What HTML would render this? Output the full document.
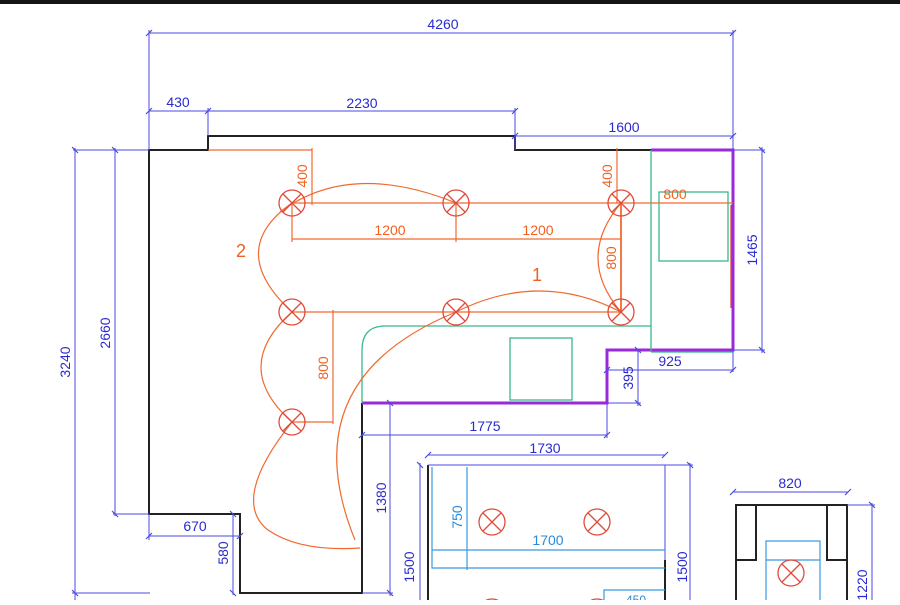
<!DOCTYPE html>
<html><head><meta charset="utf-8"><style>
body{margin:0;background:#fff;width:900px;height:600px;overflow:hidden}
text{font-family:"Liberation Sans",sans-serif;font-size:14px}
.b{fill:#2a2ad0}.o{fill:#f06020}.c{fill:#2a8ad8}
</style></head><body>
<svg width="900" height="600" viewBox="0 0 900 600" xmlns="http://www.w3.org/2000/svg">
<defs>
<g id="L"><circle r="13"/><path d="M-9,-9 L9,9 M9,-9 L-9,9"/></g>
</defs>
<rect x="0" y="0" width="900" height="4" fill="#151515"/>
<g stroke="#222" stroke-width="2" fill="none">
<polyline points="651,150 515,150 515,136 208,136 208,150 149,150 149,514 240,514 240,593 362,593 362,403"/>
<line x1="428" y1="465" x2="428" y2="600"/>
<line x1="665" y1="560" x2="665" y2="600"/>
<polyline points="736,600 736,505 847,505 847,600"/>
<polyline points="736,560 756,560 756,505"/>
<polyline points="847,560 827,560 827,505"/>
</g>
<g stroke="#9a2ad8" stroke-width="3" fill="none">
<polyline points="651,150 733,150 733,350 607,350 607,403 362,403"/>
</g>
<g stroke="#3ab88a" stroke-width="1.3" fill="none">
<line x1="651" y1="150" x2="651" y2="352"/>
<line x1="651" y1="352" x2="733" y2="352"/>
<path d="M651,326 L385,326 Q362,326 362,350 L362,403"/>
<rect x="659" y="192" width="69" height="69"/>
<rect x="510" y="338" width="62" height="62"/>
</g>
<line x1="731" y1="205" x2="731" y2="308" stroke="#e04040" stroke-width="1.3"/>
<g stroke="#4a4ae0" stroke-width="1" fill="none">
<line x1="149" y1="33" x2="733" y2="33"/>
<line x1="149" y1="30" x2="149" y2="150"/><line x1="733" y1="30" x2="733" y2="150"/>
<line x1="149" y1="111" x2="515" y2="111"/>
<line x1="208" y1="108" x2="208" y2="136"/><line x1="515" y1="108" x2="515" y2="150"/>
<line x1="515" y1="136" x2="733" y2="136"/>
<line x1="733" y1="150" x2="765" y2="150"/><line x1="733" y1="350" x2="765" y2="350"/>
<line x1="762" y1="147" x2="762" y2="353"/>
<line x1="733" y1="350" x2="733" y2="372"/>
<line x1="607" y1="370" x2="733" y2="370"/>
<line x1="607" y1="403" x2="641" y2="403"/>
<line x1="638" y1="350" x2="638" y2="406"/>
<line x1="362" y1="435" x2="607" y2="435"/>
<line x1="607" y1="403" x2="607" y2="438"/>
<line x1="73" y1="150" x2="149" y2="150"/><line x1="72" y1="593" x2="150" y2="593"/>
<line x1="75" y1="148" x2="75" y2="600"/>
<line x1="113" y1="514" x2="149" y2="514"/>
<line x1="115" y1="148" x2="115" y2="516"/>
<line x1="149" y1="514" x2="149" y2="540"/>
<line x1="149" y1="536" x2="240" y2="536"/>
<line x1="233" y1="514" x2="233" y2="595"/>
<line x1="362" y1="593" x2="393" y2="593"/>
<line x1="390" y1="403" x2="390" y2="596"/>
<line x1="420" y1="463" x2="420" y2="600"/>
<line x1="428" y1="455" x2="665" y2="455"/>
<line x1="428" y1="465" x2="693" y2="465"/>
<line x1="665" y1="465" x2="665" y2="560"/>
<line x1="690" y1="463" x2="690" y2="600"/>
<line x1="733" y1="492" x2="848" y2="492"/>
<line x1="847" y1="505" x2="875" y2="505"/>
<line x1="872" y1="503" x2="872" y2="600"/>
</g>
<g stroke="#4a4ae0" stroke-width="1.2">
<path d="M146,36 L152,30 M730,36 L736,30 M146,114 L152,108 M205,114 L211,108 M512,114 L518,108 M512,139 L518,133 M730,139 L736,133 M759,147 L765,153 M759,347 L765,353 M604,373 L610,367 M730,373 L736,367 M635,347 L641,353 M635,400 L641,406 M359,438 L365,432 M604,438 L610,432 M72,147 L78,153 M72,590 L78,596 M112,147 L118,153 M112,511 L118,517 M146,539 L152,533 M237,539 L243,533 M230,511 L236,517 M230,590 L236,596 M387,400 L393,406 M387,590 L393,596 M425,458 L431,452 M662,458 L668,452 M417,462 L423,468 M687,462 L693,468 M730,495 L736,489 M845,495 L851,489 M869,502 L875,508"/>
</g>
<g class="b">
<text x="443" y="29" text-anchor="middle">4260</text>
<text x="178" y="107" text-anchor="middle">430</text>
<text x="362" y="108" text-anchor="middle">2230</text>
<text x="624" y="132" text-anchor="middle">1600</text>
<text x="670" y="366" text-anchor="middle">925</text>
<text x="485" y="431" text-anchor="middle">1775</text>
<text x="195" y="531" text-anchor="middle">670</text>
<text x="545" y="453" text-anchor="middle">1730</text>
<text x="790" y="488" text-anchor="middle">820</text>
<text transform="translate(757,250) rotate(-90)" text-anchor="middle">1465</text>
<text transform="translate(633,378) rotate(-90)" text-anchor="middle">395</text>
<text transform="translate(70,362) rotate(-90)" text-anchor="middle">3240</text>
<text transform="translate(110,333) rotate(-90)" text-anchor="middle">2660</text>
<text transform="translate(228,553) rotate(-90)" text-anchor="middle">580</text>
<text transform="translate(386,498) rotate(-90)" text-anchor="middle">1380</text>
<text transform="translate(414,567) rotate(-90)" text-anchor="middle">1500</text>
<text transform="translate(687,567) rotate(-90)" text-anchor="middle">1500</text>
<text transform="translate(867,585) rotate(-90)" text-anchor="middle">1220</text>
</g>
<g stroke="#3a9ae0" stroke-width="1.2" fill="none">
<polyline points="432,467 432,568 665,568"/>
<line x1="467" y1="467" x2="467" y2="570"/>
<line x1="432" y1="550" x2="665" y2="550"/>
<polyline points="604,600 604,590 665,590"/>
<rect x="766" y="541" width="54" height="70"/>
<line x1="766" y1="560" x2="820" y2="560"/>
</g>
<g class="c">
<text transform="translate(462,517) rotate(-90)" text-anchor="middle">750</text>
<text x="548" y="545" text-anchor="middle">1700</text>
<text x="636" y="604" text-anchor="middle" style="font-size:12px">450</text>
</g>
<g stroke="#f06a30" stroke-width="1.2" fill="none">
<line x1="292" y1="203" x2="733" y2="203"/>
<line x1="292" y1="312" x2="621" y2="312"/>
<line x1="292" y1="203" x2="292" y2="242"/><line x1="456" y1="203" x2="456" y2="242"/>
<line x1="292" y1="239" x2="621" y2="239"/>
<line x1="208" y1="150" x2="312" y2="150"/>
<line x1="312" y1="148" x2="312" y2="205"/>
<line x1="617" y1="148" x2="617" y2="203"/>
<line x1="621" y1="203" x2="621" y2="312" stroke-width="1.8"/>
<line x1="333" y1="310" x2="333" y2="424"/>
<line x1="292" y1="422" x2="333" y2="422"/>
<path d="M280,212 Q350,160 456,203"/>
<path d="M292,203 Q225,250 292,312"/>
<path d="M292,312 Q230,367 292,422"/>
<path d="M292,422 Q230,500 268,530 Q300,552 360,548"/>
<path d="M456,312 Q540,270 621,312"/>
<path d="M621,203 Q575,258 621,312"/>
<path d="M456,312 Q290,380 355,540"/>
</g>
<g stroke="#e04a3a" stroke-width="1.3" fill="none">
<use href="#L" x="292" y="203"/><use href="#L" x="456" y="203"/><use href="#L" x="621" y="203"/>
<use href="#L" x="292" y="312"/><use href="#L" x="456" y="312"/><use href="#L" x="621" y="312"/>
<use href="#L" x="292" y="422"/>
<use href="#L" x="492" y="522"/><use href="#L" x="597" y="522"/>
<use href="#L" x="492" y="612"/><use href="#L" x="597" y="612"/>
<use href="#L" x="791" y="573"/>
</g>
<g class="o">
<text x="390" y="235" text-anchor="middle">1200</text>
<text x="538" y="235" text-anchor="middle">1200</text>
<text x="675" y="199" text-anchor="middle">800</text>
<text x="241" y="257" text-anchor="middle" style="font-size:18px">2</text>
<text x="537" y="281" text-anchor="middle" style="font-size:18px">1</text>
<text transform="translate(307,176) rotate(-90)" text-anchor="middle">400</text>
<text transform="translate(612,176) rotate(-90)" text-anchor="middle">400</text>
<text transform="translate(616,258) rotate(-90)" text-anchor="middle">800</text>
<text transform="translate(328,368) rotate(-90)" text-anchor="middle">800</text>
</g>
</svg>
</body></html>
